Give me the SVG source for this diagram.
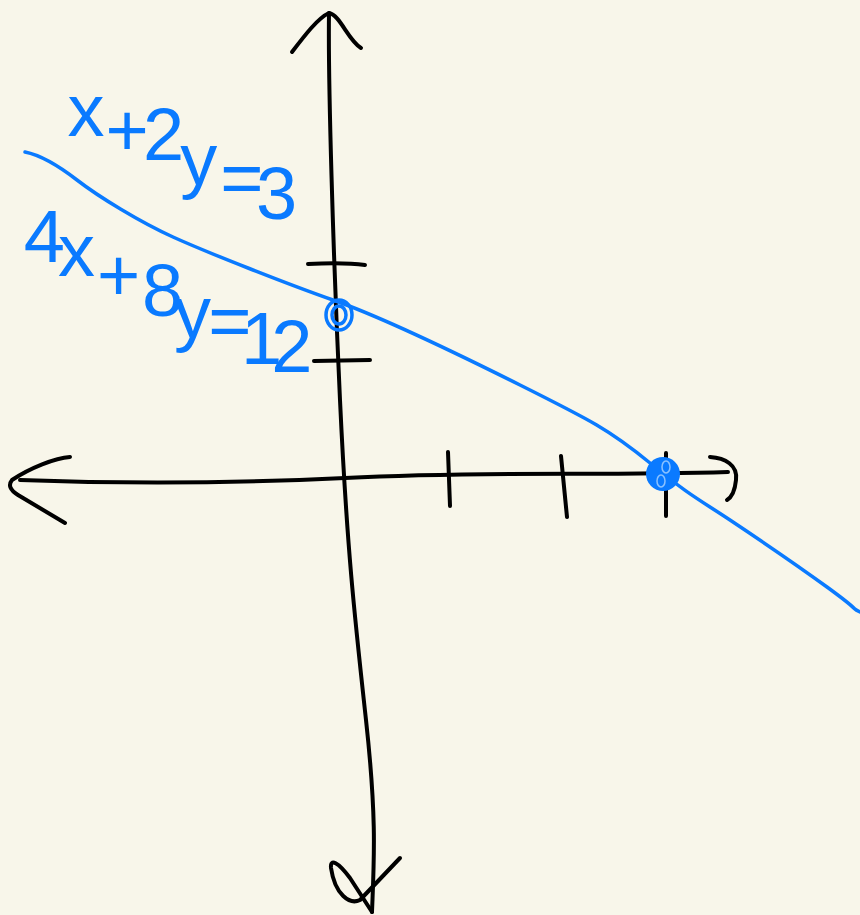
<svg xmlns="http://www.w3.org/2000/svg" width="860" height="915" viewBox="0 0 860 915">
<style>
.ink{fill:none;stroke:#000;stroke-width:4;stroke-linecap:round;stroke-linejoin:round}
.blue{fill:none;stroke:#0a7aff;stroke-width:3.5;stroke-linecap:round;stroke-linejoin:round}
.lbl{font-family:"Liberation Sans",Arial,sans-serif;font-size:74px;fill:#0a7aff}
</style>
<rect width="860" height="915" fill="#f8f6ea"/>
<g id="axes">
  <path class="ink" d="M329,13 C328,80 333,250 340,400 S355,620 366,720 S374,860 372,912"/>
  <path class="ink" d="M292,52 C305,35 318,18 329,13 C340,15 348,40 361,48"/>
  <path class="ink" d="M400,858 L360,900 C350,905 335,895 331,868 C330,858 338,862 350,878 L372,912"/>
  <path class="ink" d="M20,480 C100,483 200,485 345,478 S600,476 728,472"/>
  <path class="ink" d="M70,457 C55,458 30,468 12,480 C8,485 10,490 18,495 L65,523"/>
  <path class="ink" d="M710,457 C725,458 738,465 736,480 C735,490 732,497 727,500"/>
  <path class="ink" d="M448,452 L450,506 M561,456 L567,517 M666,453 L666,516"/>
  <path class="ink" d="M308,264 C330,263 350,263 365,265 M314,361 L370,360"/>
</g>
<g id="line">
  <path class="blue" d="M25,152 C40,155 55,163 77,180 S140,222 173,237 S290,285 333,300 S450,350 520,385 S610,430 650,463 S700,500 730,520 S790,560 827,587 S850,607 860,612"/>
</g>
<g id="point-y">
  <ellipse class="blue" cx="339" cy="315" rx="13" ry="15"/>
  <ellipse class="blue" cx="339" cy="315" rx="7" ry="9"/>
</g>
<g id="point-x">
  <circle cx="663" cy="474" r="17" fill="#0a7aff"/>
  <ellipse cx="666" cy="467" rx="4" ry="6" fill="none" stroke="#8cc2ff" stroke-width="1.5"/>
  <ellipse cx="661" cy="481" rx="4" ry="6" fill="none" stroke="#8cc2ff" stroke-width="1.5"/>
</g>
<g id="labels">
  <text class="lbl" transform="translate(84,143) rotate(23)" x="-18 25 61 105 149 188" y="0 4 -7 1 2 3" rotate="-23">x+2y=3</text>
  <text class="lbl" transform="translate(42,270) rotate(24)" x="-20 17 63 110 148 183 220 251" y="0 -1 6 1 8 2 5 0" rotate="-24">4x+8y=12</text>
</g>
</svg>
